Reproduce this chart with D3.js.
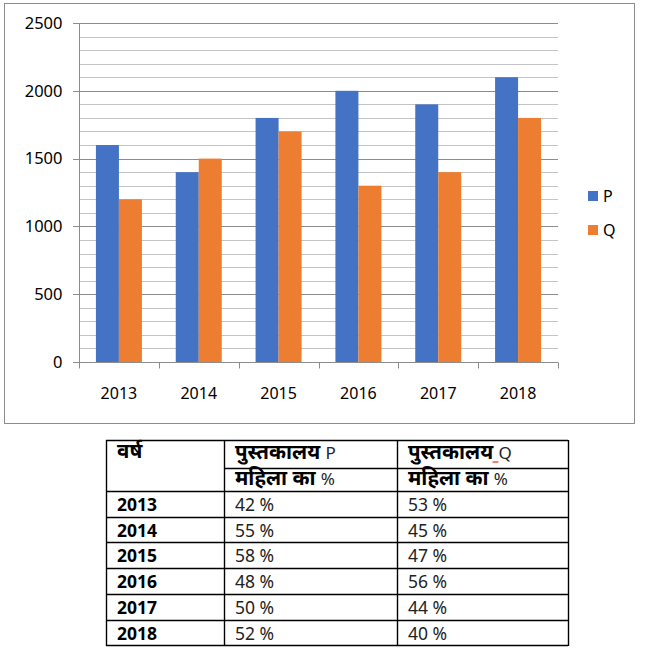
<!DOCTYPE html>
<html>
<head>
<meta charset="utf-8">
<script src="https://cdn.jsdelivr.net/npm/d3@7"></script>
<style>
  body { margin: 0; background: #fff; }
  svg { display: block; }
</style>
</head>
<body>
<svg id="chart" width="647" height="651"></svg>
<script>
// chart data
const years = ['2013', '2014', '2015', '2016', '2017', '2018'];
const seriesNames = ['P', 'Q'];
const pValues = [1600, 1400, 1800, 2000, 1900, 2100];
const qValues = [1200, 1500, 1700, 1300, 1400, 1800];
const yTicks = [0, 500, 1000, 1500, 2000, 2500];
const colors = ['#4472C4', '#ED7D31'];

// table data
const headYear = 'वर्ष';
const headLib = 'पुस्तकालय';
const headWomen = 'महिला का';
const pWomen = ['42 %', '55 %', '58 %', '48 %', '50 %', '52 %'];
const qWomen = ['53 %', '45 %', '47 %', '56 %', '44 %', '40 %'];

const font = '"Noto Sans", "Open Sans", sans-serif';
const hindiFont = '"Noto Sans Devanagari", "Noto Sans", "Lohit Devanagari", sans-serif';

const svg = d3.select('#chart');

// outer frame of the chart
svg.append('rect')
  .attr('x', 4.5).attr('y', 3.5)
  .attr('width', 630).attr('height', 420)
  .attr('fill', 'none').attr('stroke', '#8c8c8c').attr('stroke-width', 1);

const plot = { left: 79, right: 558, top: 23, bottom: 362 };

const y = d3.scaleLinear().domain([0, 2500]).range([plot.bottom, plot.top]);
const x = d3.scaleBand().domain(years).range([plot.left, plot.right]);
const xs = d3.scaleBand().domain(seriesNames)
  .range([x.bandwidth() / 2 - 23, x.bandwidth() / 2 + 23]);

// grid lines every 100, darker every 500
const grid = svg.append('g');
grid.selectAll('line.minor')
  .data(d3.range(100, 2500, 100).filter(v => v % 500 !== 0))
  .enter().append('line')
  .attr('x1', plot.left).attr('x2', plot.right)
  .attr('y1', d => Math.round(y(d)) + 0.5).attr('y2', d => Math.round(y(d)) + 0.5)
  .attr('stroke', '#c4c4c4');
grid.selectAll('line.major')
  .data(yTicks)
  .enter().append('line')
  .attr('x1', plot.left - 6).attr('x2', plot.right)
  .attr('y1', d => Math.round(y(d)) + 0.5).attr('y2', d => Math.round(y(d)) + 0.5)
  .attr('stroke', '#8c8c8c');

// y axis
const yAxis = svg.append('g')
  .attr('transform', `translate(${plot.left + 0.5},0)`)
  .call(d3.axisLeft(y).tickValues(yTicks).tickFormat(d3.format('d')).tickSize(0).tickPadding(17));
yAxis.select('.domain').attr('stroke', '#8c8c8c').attr('d', `M0,${plot.top}V${plot.bottom + 6}`);
yAxis.selectAll('text').attr('font-family', font).attr('font-size', 16.5).attr('fill', '#000');

// bars
const seriesData = [pValues, qValues];
seriesNames.forEach((name, si) => {
  svg.append('g').selectAll('rect')
    .data(years)
    .enter().append('rect')
    .attr('x', d => x(d) + xs(name))
    .attr('width', xs.bandwidth())
    .attr('y', (d, i) => y(seriesData[si][i]))
    .attr('height', (d, i) => y(0) - y(seriesData[si][i]))
    .attr('fill', colors[si]);
});

// x axis with ticks at category boundaries
const xAxis = svg.append('g')
  .attr('transform', `translate(0,${Math.round(y(0)) + 0.5})`);
xAxis.append('line')
  .attr('x1', plot.left).attr('x2', plot.right)
  .attr('stroke', '#8c8c8c');
xAxis.selectAll('line.tick')
  .data(years.concat(['end']))
  .enter().append('line')
  .attr('x1', (d, i) => Math.round(plot.left + i * x.bandwidth()) + 0.5)
  .attr('x2', (d, i) => Math.round(plot.left + i * x.bandwidth()) + 0.5)
  .attr('y1', 0).attr('y2', 6)
  .attr('stroke', '#8c8c8c');
xAxis.selectAll('text')
  .data(years)
  .enter().append('text')
  .attr('x', d => x(d) + x.bandwidth() / 2)
  .attr('y', 36)
  .attr('text-anchor', 'middle')
  .attr('font-family', font).attr('font-size', 16)
  .text(d => d);

// legend
const legend = svg.append('g');
seriesNames.forEach((name, i) => {
  legend.append('rect')
    .attr('x', 588).attr('y', 191 + i * 34)
    .attr('width', 10).attr('height', 10)
    .attr('fill', colors[i]);
  legend.append('text')
    .attr('x', 603).attr('y', 202 + i * 34)
    .attr('font-family', font).attr('font-size', 16)
    .text(name);
});

// table
const tbl = { left: 106, c1: 224, c2: 397, right: 568, top: 440, mid: 468, headBottom: 491, rowH: 25.7 };
const table = svg.append('g');
const rowTops = years.map((d, i) => tbl.headBottom + i * tbl.rowH);
const tableBottom = tbl.headBottom + years.length * tbl.rowH;

// horizontal rules
[tbl.top, tbl.headBottom].concat(rowTops.slice(1), [tableBottom]).forEach(yy => {
  table.append('line')
    .attr('x1', tbl.left).attr('x2', tbl.right)
    .attr('y1', Math.round(yy) + 0.5).attr('y2', Math.round(yy) + 0.5)
    .attr('stroke', '#000').attr('stroke-width', 1.4);
});
table.append('line')
  .attr('x1', tbl.c1).attr('x2', tbl.right)
  .attr('y1', tbl.mid + 0.5).attr('y2', tbl.mid + 0.5)
  .attr('stroke', '#000').attr('stroke-width', 1.4);
// vertical rules
[tbl.left, tbl.c1, tbl.c2, tbl.right].forEach(xx => {
  table.append('line')
    .attr('x1', xx + 0.5).attr('x2', xx + 0.5)
    .attr('y1', tbl.top).attr('y2', Math.round(tableBottom) + 1)
    .attr('stroke', '#000').attr('stroke-width', 1.4);
});

// header text
table.append('text')
  .attr('x', 117).attr('y', 458)
  .attr('font-family', hindiFont).attr('font-size', 20.5).attr('font-weight', 'bold')
  .text(headYear);

[[tbl.c1 + 11, 'P'], [tbl.c2 + 11, 'Q']].forEach(([xx, lib], k) => {
  const t1 = table.append('text')
    .attr('x', xx).attr('y', 459)
    .attr('font-family', hindiFont).attr('font-size', 20.5);
  t1.append('tspan').attr('font-weight', 'bold').text(headLib + ' ');
  t1.append('tspan').attr('font-family', font).attr('font-size', 17).attr('fill', '#222').text(lib);
  const t2 = table.append('text')
    .attr('x', xx).attr('y', 485)
    .attr('font-family', hindiFont).attr('font-size', 20.5);
  t2.append('tspan').attr('font-weight', 'bold').text(headWomen + ' ');
  t2.append('tspan').attr('font-family', font).attr('font-size', 17).attr('fill', '#222').text('%');
  if (k === 1) {
    // spell-check mark under the space before Q
    const w = t1.select('tspan').node().getComputedTextLength();
    table.append('line')
      .attr('x1', xx + w - 6).attr('x2', xx + w)
      .attr('y1', 462).attr('y2', 462)
      .attr('stroke', '#e03030').attr('stroke-width', 1.2);
  }
});

// data rows
years.forEach((yr, i) => {
  const base = rowTops[i] + 20;
  table.append('text')
    .attr('x', 117).attr('y', base)
    .attr('font-family', font).attr('font-size', 17.5).attr('font-weight', 'bold')
    .text(yr);
  table.append('text')
    .attr('x', tbl.c1 + 11).attr('y', base)
    .attr('font-family', font).attr('font-size', 17.5).attr('fill', '#222')
    .text(pWomen[i]);
  table.append('text')
    .attr('x', tbl.c2 + 11).attr('y', base)
    .attr('font-family', font).attr('font-size', 17.5).attr('fill', '#222')
    .text(qWomen[i]);
});
</script>
</body>
</html>
